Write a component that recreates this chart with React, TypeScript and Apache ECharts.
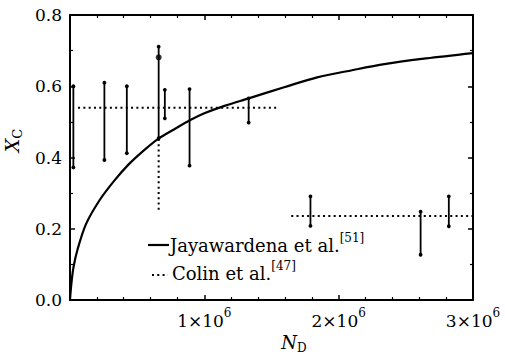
import React, { useEffect, useRef } from "react";
import * as echarts from "echarts";

// Jayawardena et al. curve (N_D in units of 1e6, X_C)
const curveN = [0, 0.01, 0.025, 0.057, 0.119, 0.22, 0.33, 0.435, 0.55, 0.659, 0.78, 0.896, 1.0, 1.15, 1.33, 1.6, 1.84, 2.1, 2.34, 2.65, 3.0];
const curveX = [0, 0.045, 0.09, 0.143, 0.213, 0.28, 0.335, 0.38, 0.42, 0.453, 0.48, 0.505, 0.524, 0.545, 0.566, 0.598, 0.625, 0.645, 0.662, 0.678, 0.693];

// Colin et al. error bars
const errN = [0.025, 0.256, 0.423, 0.66, 0.706, 0.89, 1.33, 1.79, 2.61, 2.82];
const errLow = [0.372, 0.393, 0.412, 0.454, 0.51, 0.377, 0.498, 0.208, 0.127, 0.207];
const errHigh = [0.6, 0.61, 0.6, 0.711, 0.59, 0.592, 0.566, 0.291, 0.248, 0.291];

// Colin et al. mean levels (dotted)
const level1N = [0.06, 1.55];
const level1X = [0.54, 0.54];
const level2N = [1.647, 3.0];
const level2X = [0.236, 0.236];

// dotted vertical extension of one error bar
const extN = [0.66, 0.66];
const extX = [0.253, 0.454];

// single point marker
const pointN = [0.66];
const pointX = [0.681];

const xTicks = [0, 1, 2, 3];
const yTicks = [0, 0.2, 0.4, 0.6, 0.8];

const FONT = "DejaVu Serif";
const SCALE = 1e6;

export default function App() {
  const ref = useRef<HTMLDivElement>(null);
  useEffect(() => {
    if (!ref.current) return;
    const chart = echarts.init(ref.current, null, { renderer: "svg" });
    const dotted = [2, 3.3];
    const xBase = {
      type: "value",
      min: xTicks[0] * SCALE,
      max: xTicks[xTicks.length - 1] * SCALE,
      interval: SCALE,
      axisLine: { show: true, onZero: false, lineStyle: { color: "#000", width: 2 } },
      axisTick: { show: true, inside: true, length: 5, lineStyle: { color: "#000", width: 1.5 } },
      minorTick: { show: true, splitNumber: 5, length: 3, lineStyle: { color: "#000", width: 1.2 } },
      splitLine: { show: false },
    };
    const yBase = {
      type: "value",
      min: yTicks[0],
      max: yTicks[yTicks.length - 1],
      interval: 0.2,
      axisLine: { show: true, onZero: false, lineStyle: { color: "#000", width: 2 } },
      axisTick: { show: true, inside: true, length: 5, lineStyle: { color: "#000", width: 1.5 } },
      minorTick: { show: true, splitNumber: 2, length: 3, lineStyle: { color: "#000", width: 1.2 } },
      splitLine: { show: false },
    };
    chart.setOption({
      animation: false,
      backgroundColor: "#fff",
      textStyle: { fontFamily: FONT },
      grid: { left: 70, top: 15, right: 32, bottom: 54, containLabel: false, outerBoundsMode: "none" },
      xAxis: [
        {
          ...xBase,
          position: "bottom",
          axisLabel: {
            show: true,
            margin: 7,
            fontFamily: FONT,
            formatter: (v: number) => (v === 0 ? "" : `{n|${v / SCALE}×10}{s|6}`),
            rich: {
              n: { fontFamily: FONT, fontSize: 17, color: "#000", lineHeight: 22, verticalAlign: "bottom" },
              s: { fontFamily: FONT, fontSize: 12, color: "#000", lineHeight: 12, verticalAlign: "top" },
            },
          },
          name: "{n|N}{d|D}",
          nameLocation: "middle",
          nameGap: 24,
          nameTextStyle: {
            fontFamily: FONT,
            padding: [0, 0, 0, 45],
            rich: {
              n: { fontFamily: FONT, fontSize: 18, fontStyle: "italic", color: "#000", lineHeight: 20, verticalAlign: "top" },
              d: { fontFamily: FONT, fontSize: 12, color: "#000", lineHeight: 12, verticalAlign: "bottom" },
            },
          },
        },
        { ...xBase, position: "top", axisLabel: { show: false } },
      ],
      yAxis: [
        {
          ...yBase,
          position: "left",
          axisLabel: {
            show: true,
            margin: 8,
            fontFamily: FONT,
            fontSize: 17,
            color: "#000",
            formatter: (v: number) => v.toFixed(1),
          },
          name: "{x|X}{c|C}",
          nameLocation: "middle",
          nameRotate: 90,
          nameGap: 46,
          nameTextStyle: {
            fontFamily: FONT,
            padding: [0, 0, 0, 34],
            rich: {
              x: { fontFamily: FONT, fontSize: 19, fontStyle: "italic", color: "#000", lineHeight: 22, verticalAlign: "top" },
              c: { fontFamily: FONT, fontSize: 13, color: "#000", lineHeight: 13, verticalAlign: "bottom" },
            },
          },
        },
        { ...yBase, position: "right", axisLabel: { show: false } },
      ],
      series: [
        {
          type: "line",
          name: "Jayawardena",
          data: curveN.map((n, i) => [n * SCALE, curveX[i]]),
          smooth: 0.3,
          showSymbol: false,
          lineStyle: { color: "#000", width: 2.2 },
          z: 3,
        },
        {
          type: "line",
          data: level1N.map((n, i) => [n * SCALE, level1X[i]]),
          showSymbol: false,
          lineStyle: { color: "#000", width: 2, type: dotted },
        },
        {
          type: "line",
          data: level2N.map((n, i) => [n * SCALE, level2X[i]]),
          showSymbol: false,
          lineStyle: { color: "#000", width: 2, type: dotted },
        },
        {
          type: "line",
          data: extN.map((n, i) => [n * SCALE, extX[i]]),
          showSymbol: false,
          lineStyle: { color: "#000", width: 2, type: dotted },
        },
        {
          type: "custom",
          data: errN.map((n, i) => [n * SCALE, errLow[i], errHigh[i]]),
          renderItem: (params: any, api: any) => {
            const x = api.value(0);
            const p1 = api.coord([x, api.value(1)]);
            const p2 = api.coord([x, api.value(2)]);
            return {
              type: "group",
              children: [
                { type: "line", shape: { x1: p1[0], y1: p1[1], x2: p2[0], y2: p2[1] }, style: { stroke: "#000", lineWidth: 1.8 } },
                { type: "circle", shape: { cx: p1[0], cy: p1[1], r: 1.9 }, style: { fill: "#000" } },
                { type: "circle", shape: { cx: p2[0], cy: p2[1], r: 1.9 }, style: { fill: "#000" } },
              ],
            };
          },
          z: 4,
        },
        {
          type: "scatter",
          data: pointN.map((n, i) => [n * SCALE, pointX[i]]),
          symbol: "circle",
          symbolSize: 6,
          itemStyle: { color: "#000" },
          z: 5,
        },
      ],
      graphic: [
        { type: "line", shape: { x1: 148, y1: 245, x2: 169, y2: 245 }, style: { stroke: "#000", lineWidth: 2.2 } },
        {
          type: "text",
          x: 170,
          y: 243,
          style: {
            text: "{t|Jayawardena et al.}{s|[51]}",
            fontFamily: FONT,
            verticalAlign: "middle",
            rich: {
              t: { fontFamily: FONT, fontSize: 18, fill: "#000", lineHeight: 22, verticalAlign: "bottom" },
              s: { fontFamily: FONT, fontSize: 12, fill: "#000", lineHeight: 13, verticalAlign: "top" },
            },
          },
        },
        { type: "line", shape: { x1: 152, y1: 275, x2: 168, y2: 275 }, style: { stroke: "#000", lineWidth: 2, lineDash: dotted } },
        {
          type: "text",
          x: 172,
          y: 271,
          style: {
            text: "{t|Colin et al.}{s|[47]}",
            fontFamily: FONT,
            verticalAlign: "middle",
            rich: {
              t: { fontFamily: FONT, fontSize: 18, fill: "#000", lineHeight: 22, verticalAlign: "bottom" },
              s: { fontFamily: FONT, fontSize: 12, fill: "#000", lineHeight: 13, verticalAlign: "top" },
            },
          },
        },
      ],
    });
    return () => chart.dispose();
  }, []);
  return <div ref={ref} style={{ width: 505, height: 354, position: "absolute", left: 0, top: 0 }} />;
}
